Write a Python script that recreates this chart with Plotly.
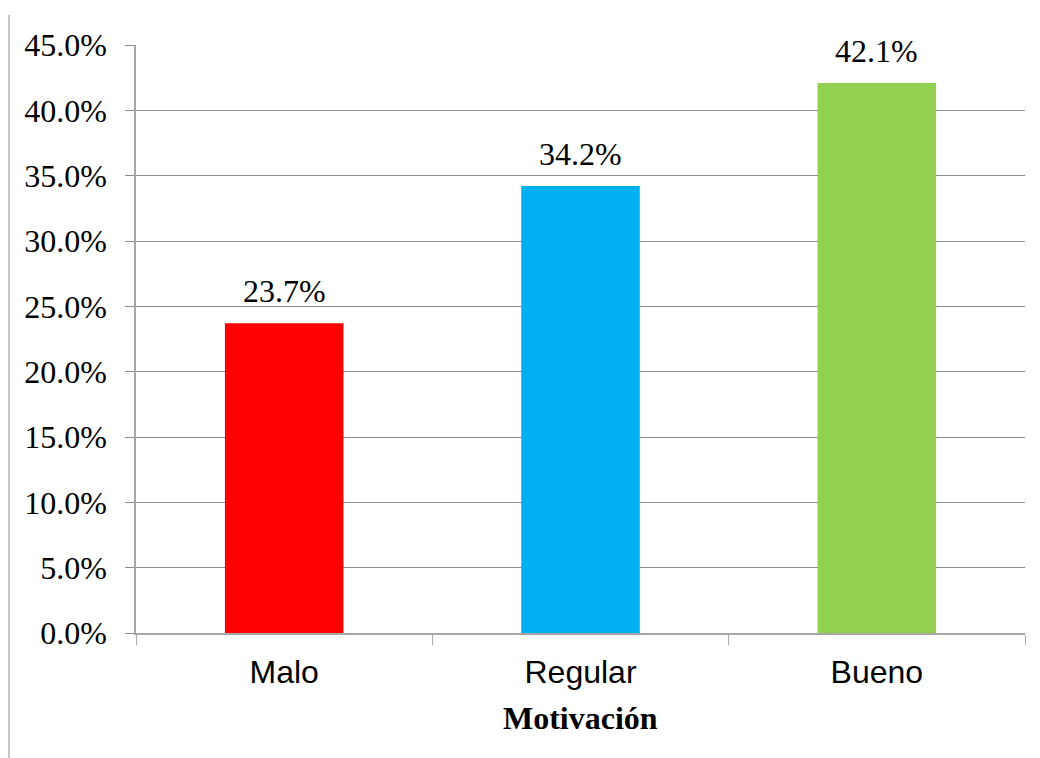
import plotly.graph_objects as go

categories = ["Malo", "Regular", "Bueno"]
values = [0.237, 0.342, 0.421]
bar_colors = ["#FF0000", "#00B0F0", "#92D050"]
value_labels = ["23.7%", "34.2%", "42.1%"]
axis_title = "Motivación"

fig = go.Figure()
fig.add_trace(go.Bar(
    x=categories, y=values, marker=dict(color=bar_colors, line=dict(width=0)),
    width=0.4, showlegend=False, hoverinfo="skip",
))

for c, v, t in zip(categories, values, value_labels):
    fig.add_annotation(x=c, y=v, text=t, showarrow=False, yanchor="bottom",
                       yshift=12, font=dict(family="Liberation Serif", size=32, color="black"))

fig.add_annotation(xref="paper", yref="paper", x=0.5, y=-0.145, text="<b>%s</b>" % axis_title,
                   showarrow=False, yanchor="middle",
                   font=dict(family="Liberation Serif", size=32, color="black"))

fig.add_shape(type="line", xref="paper", yref="paper", x0=-0.1429, x1=-0.1429,
              y0=1.051, y1=-0.22, line=dict(color="#b4b4b4", width=1.5))

fig.update_layout(
    width=1040, height=758,
    margin=dict(l=136, r=15, t=45, b=125),
    paper_bgcolor="white", plot_bgcolor="white",
    bargap=0.6,
)
fig.update_yaxes(
    range=[0, 0.45], dtick=0.05, tickformat=".1%",
    showgrid=True, gridcolor="#8c8c8c", gridwidth=1,
    showline=True, linecolor="#a6a6a6", linewidth=1.5,
    ticks="outside", ticklen=9, tickcolor="#8c8c8c",
    ticklabelstandoff=12,
    tickfont=dict(family="Liberation Serif", size=32, color="black"),
    zeroline=False,
)
fig.update_xaxes(
    showline=True, linecolor="#a6a6a6", linewidth=1.5,
    ticks="outside", tickson="boundaries", ticklen=10, tickcolor="#a6a6a6",
    ticklabelstandoff=10,
    tickfont=dict(family="Liberation Sans", size=32, color="black"),
    showgrid=False,
)

fig.write_html("out.html", config={"displayModeBar": False},
               post_script="document.body.style.margin='0';")
